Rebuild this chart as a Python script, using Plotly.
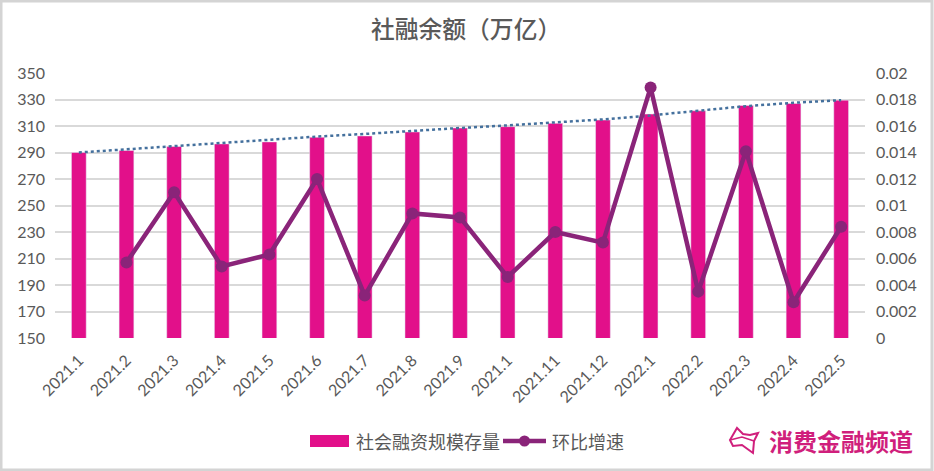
import plotly.graph_objects as go

# 2021.10 really is labelled 2021.1 in the source chart, so the axis is indexed by position
months = ["2021.1", "2021.2", "2021.3", "2021.4", "2021.5", "2021.6", "2021.7", "2021.8", "2021.9",
          "2021.1", "2021.11", "2021.12", "2022.1", "2022.2", "2022.3", "2022.4", "2022.5"]
stock = [290, 291.5, 294.5, 296.5, 298, 301.5, 302.5, 305.5, 308.5,
         309.5, 312, 314.5, 319, 321.5, 325.5, 327, 329.5]
growth = [None, 0.0057, 0.011, 0.0054, 0.0063, 0.012, 0.0032, 0.0094, 0.0091,
          0.0046, 0.008, 0.0072, 0.0189, 0.0035, 0.0141, 0.0027, 0.0084]
trend = [290, 292.5, 295, 297.5, 299.5, 302, 304, 306.5, 308.5,
         310.5, 312.5, 315, 318, 321.5, 325, 327.5, 329.5]
left_ticks = [150, 170, 190, 210, 230, 250, 270, 290, 310, 330, 350]
right_ticks = [0, 0.002, 0.004, 0.006, 0.008, 0.01, 0.012, 0.014, 0.016, 0.018, 0.02]
right_labels = ["0", "0.002", "0.004", "0.006", "0.008", "0.01", "0.012", "0.014", "0.016", "0.018", "0.02"]

idx = list(range(len(months)))
cjk = "Noto Sans CJK SC"
latin = "Lato"
grey = "#595959"
pink = "#E2108A"
purple = "#8A2479"

L, R, T, B = 55, 69, 73, 133
W, H = 934, 471


# the legend, frame and logo sit outside the plot, so they are placed in page pixels
def px(x):
    return (x - L) / (W - L - R)


def py(y):
    return (H - B - y) / (H - T - B)


def path(points, closed=True):
    return "M " + " L ".join(f"{px(x):.4f},{py(y):.4f}" for x, y in points) + (" Z" if closed else "")


fig = go.Figure()
fig.add_trace(go.Bar(x=idx, y=stock, name="社会融资规模存量", marker_color=pink, width=0.31, showlegend=False))
fig.add_trace(go.Scatter(x=idx, y=trend, mode="lines", showlegend=False,
                         line=dict(color="#44709D", width=2.5, dash="dot")))
fig.add_trace(go.Scatter(x=idx, y=growth, name="环比增速", yaxis="y2", mode="lines+markers", showlegend=False,
                         line=dict(color=purple, width=4.5),
                         marker=dict(color=purple, size=12)))

fig.update_layout(
    width=W, height=H,
    margin=dict(l=L, r=R, t=T, b=B),
    paper_bgcolor="white",
    plot_bgcolor="white",
    font=dict(family=latin, color=grey, size=16),
    title=dict(text="社融余额（万亿）", x=0.499, xanchor="center", y=0.936, yanchor="middle",
               font=dict(family=cjk, size=23.8, color=grey, weight=500)),
    xaxis=dict(range=[-0.5, 16.5], tickmode="array", tickvals=idx, ticktext=months, tickangle=-45,
               showgrid=False, ticks="", ticklabelstandoff=9, tickfont=dict(family=latin, size=16, color=grey)),
    yaxis=dict(range=[150, 350], tickvals=left_ticks, gridcolor="#D9D9D9", gridwidth=2, zeroline=False,
               ticklabelstandoff=9, tickfont=dict(family=latin, size=16, color=grey)),
    yaxis2=dict(range=[0, 0.02], overlaying="y", side="right", tickvals=right_ticks, ticktext=right_labels,
                showgrid=False, zeroline=False, ticklabelstandoff=10, tickfont=dict(family=latin, size=16, color=grey)),
    showlegend=False,
)

# outer grey frame
fig.add_shape(type="rect", xref="paper", yref="paper", x0=px(1), x1=px(W - 2), y0=py(H - 1), y1=py(1),
              line=dict(color="#D4D4D4", width=3), layer="below")

# legend
fig.add_shape(type="rect", xref="paper", yref="paper", x0=px(310), x1=px(349), y0=py(447), y1=py(435),
              fillcolor=pink, line_width=0)
fig.add_shape(type="line", xref="paper", yref="paper", x0=px(503), x1=px(546), y0=py(441), y1=py(441),
              line=dict(color=purple, width=4.5))
fig.add_shape(type="circle", xref="paper", yref="paper", x0=px(519), x1=px(530), y0=py(446.5), y1=py(435.5),
              fillcolor=purple, line_width=0)
fig.add_annotation(text="社会融资规模存量", xref="paper", yref="paper", x=px(354), y=py(441), xanchor="left",
                   yanchor="middle", showarrow=False, font=dict(family=cjk, size=18, color=grey))
fig.add_annotation(text="环比增速", xref="paper", yref="paper", x=px(550), y=py(441), xanchor="left",
                   yanchor="middle", showarrow=False, font=dict(family=cjk, size=18, color=grey))

# watermark logo
fig.add_annotation(text="<b>消费金融频道</b>", xref="paper", yref="paper", x=px(841), y=py(440),
                   xanchor="center", yanchor="middle", showarrow=False,
                   font=dict(family=cjk, size=24, color="#D01F7C"))
fig.add_shape(type="path", xref="paper", yref="paper", line=dict(color="#D01F7C", width=2),
              path=path([(737, 428), (743, 434), (750, 435), (758, 433), (754, 441), (753, 453),
                         (742, 445), (733, 446), (730, 440)]))
fig.add_shape(type="path", xref="paper", yref="paper", line=dict(color="#D01F7C", width=1.5),
              path=path([(730, 440), (742, 437), (754, 441)], closed=False))

# default page margin would push the chart 8px off the window
fig.write_html("out.html", config={"displayModeBar": False}, post_script="document.body.style.margin='0';")
